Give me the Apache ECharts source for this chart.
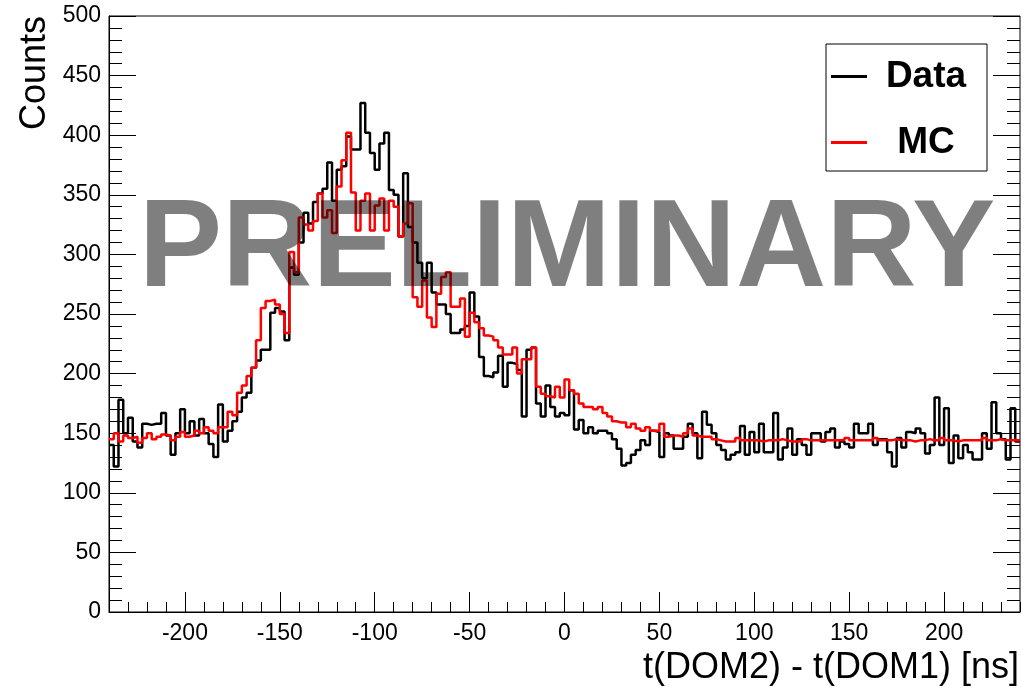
<!DOCTYPE html>
<html>
<head>
<meta charset="utf-8">
<script src="https://cdn.jsdelivr.net/npm/echarts@6/dist/echarts.min.js"></script>
<style>
html,body{margin:0;padding:0;background:#fff;}
#c{width:1022px;height:691px;}
</style>
</head>
<body>
<div id="c"></div>
<script>
// Histogram binning: 192 bins of 2.5 ns from -240 to 240 ns
const binLow = -240;
const binWidth = 2.5;
const xTickLabels = [-200, -150, -100, -50, 0, 50, 100, 150, 200];

const dataCounts = [
140,122,178,150,163,143,138,158,157,158,158,167,148,132,150,170,150,160,148,162,
150,141,130,174,143,152,160,168,180,184,205,211,220,220,251,255,252,228,289,283,
310,335,326,344,351,355,377,345,371,374,399,388,388,427,402,385,371,393,402,354,
350,315,368,323,310,293,280,293,268,258,258,250,234,234,237,240,268,248,214,198,
197,201,215,189,209,208,203,164,220,222,175,164,190,172,164,167,165,186,153,161,
150,155,150,152,152,150,145,137,123,125,132,136,144,140,152,151,130,150,148,137,
137,147,158,150,129,168,157,150,140,136,128,132,134,156,132,151,134,158,134,134,
167,128,138,154,132,145,140,132,150,150,143,151,154,138,143,141,138,158,150,150,
158,140,145,145,134,122,146,138,151,150,154,150,133,140,180,140,171,125,148,129,
140,134,128,128,150,137,176,150,145,128,171,143
];

const mcCounts = [
145,150,143,148,146,147,142,146,150,145,147,149,148,144,147,151,147,148,152,150,
155,152,150,155,155,168,165,184,190,198,205,228,255,261,262,258,250,234,302,285,
331,325,320,328,351,331,337,318,357,379,402,352,320,345,351,320,341,347,320,345,
340,315,326,343,264,256,278,247,239,267,281,285,256,256,263,231,251,243,238,232,
231,228,222,216,216,222,200,212,212,222,189,183,181,180,189,180,195,186,183,175,
172,172,170,172,167,164,160,159,159,155,158,154,152,155,152,152,158,147,148,148,
147,150,154,148,147,147,147,145,144,143,143,143,146,144,144,144,144,143,144,144,
144,145,144,143,143,143,145,144,144,144,144,144,144,144,144,146,144,144,144,144,
144,146,144,144,144,145,144,144,144,143,144,144,145,144,144,146,144,144,143,144,
144,144,144,144,146,144,144,145,144,144,144,144
];

function toSteps(counts) {
  const pts = counts.map((v, i) => [binLow + binWidth * i, v]);
  pts.push([binLow + binWidth * counts.length, counts[counts.length - 1]]);
  return pts;
}

const FONT = '"Liberation Sans", Arial, Helvetica, sans-serif';
const chart = echarts.init(document.getElementById('c'), null, {renderer: 'canvas'});

const option = {
  backgroundColor: '#fff',
  animation: false,
  grid: {left: 109, right: 2, top: 16, bottom: 79, show: true, borderColor: '#000', borderWidth: 1, backgroundColor: 'transparent'},
  xAxis: [
    {
      type: 'value', min: -240, max: 240,
      axisLine: {show: true, onZero: false, lineStyle: {color: '#000', width: 1}},
      axisTick: {show: true, inside: true, length: 20, customValues: xTickLabels, lineStyle: {color: '#000', width: 1}},
      axisLabel: {show: true, customValues: xTickLabels, color: '#000', fontSize: 23, fontFamily: FONT, margin: 10},
      splitLine: {show: false},
      name: 't(DOM2) - t(DOM1) [ns]',
      nameLocation: 'end', nameGap: -1,
      nameTextStyle: {fontSize: 36, fontFamily: FONT, color: '#000', align: 'right', verticalAlign: 'top', padding: [38, 0, 0, 0]}
    },
    {
      type: 'value', min: -240, max: 240, interval: 10, position: 'bottom',
      axisLine: {show: false, onZero: false},
      axisTick: {show: true, inside: true, length: 10, lineStyle: {color: '#000', width: 1}},
      axisLabel: {show: false},
      splitLine: {show: false}
    }
  ],
  yAxis: [
    {
      type: 'value', min: 0, max: 500, interval: 50,
      axisLine: {show: true, onZero: false, lineStyle: {color: '#000', width: 1}},
      axisTick: {show: true, inside: true, length: 27, lineStyle: {color: '#000', width: 1}},
      minorTick: {show: true, splitNumber: 5, length: 13, lineStyle: {color: '#000', width: 1}},
      axisLabel: {color: '#000', fontSize: 23, fontFamily: FONT, margin: 8},
      splitLine: {show: false},
      name: 'Counts',
      nameLocation: 'end', nameGap: 0, nameRotate: 90,
      nameTextStyle: {fontSize: 36, fontFamily: FONT, color: '#000', align: 'right', verticalAlign: 'bottom', padding: [0, 0, 56, 0]}
    },
    {
      type: 'value', min: 0, max: 500, interval: 50, position: 'right',
      axisLine: {show: false, onZero: false},
      axisTick: {show: true, inside: true, length: 27, lineStyle: {color: '#000', width: 1}},
      minorTick: {show: true, splitNumber: 5, length: 13, lineStyle: {color: '#000', width: 1}},
      axisLabel: {show: false},
      splitLine: {show: false}
    }
  ],
  legend: {
    orient: 'vertical', right: 35, top: 44,
    padding: [14, 7, 10, 5], itemGap: 29,
    itemWidth: 36, itemHeight: 3, icon: 'rect',
    borderColor: '#000', borderWidth: 1, backgroundColor: '#fff',
    data: ['Data', 'MC'],
    formatter: function (name) { return '{c|' + name + '}'; },
    textStyle: {
      color: '#000', fontSize: 37, fontWeight: 'bold', fontFamily: FONT,
      rich: {c: {width: 108, align: 'center', lineHeight: 40, fontSize: 37, fontWeight: 'bold', fontFamily: FONT, color: '#000'}}
    }
  },
  graphic: [
    {
      type: 'text', x: 567, y: 252, z: 100,
      style: {
        text: 'PRELIMINARY', fontSize: 125, fontWeight: 'bold', fontFamily: FONT,
        fill: 'rgba(0,0,0,0.5)', align: 'center', verticalAlign: 'middle'
      }
    }
  ],
  series: [
    {
      name: 'Data', type: 'line', step: 'end', symbol: 'none', showSymbol: false, xAxisIndex: 0, yAxisIndex: 0,
      data: toSteps(dataCounts),
      lineStyle: {color: '#000', width: 2.5}, itemStyle: {color: '#000'}
    },
    {
      name: 'MC', type: 'line', step: 'end', symbol: 'none', showSymbol: false, xAxisIndex: 0, yAxisIndex: 0,
      data: toSteps(mcCounts),
      lineStyle: {color: '#ff0000', width: 2.5}, itemStyle: {color: '#ff0000'}
    }
  ]
};
chart.setOption(option);
</script>
</body>
</html>
